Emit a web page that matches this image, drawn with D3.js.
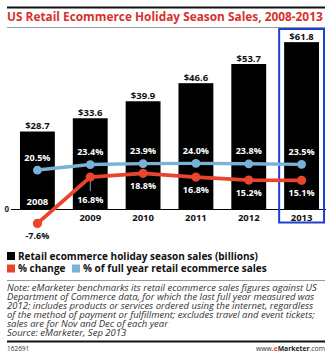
<!DOCTYPE html>
<html>
<head>
<meta charset="utf-8">
<script src="https://cdn.jsdelivr.net/npm/d3@7/dist/d3.min.js"></script>
<style>
  html, body { margin: 0; padding: 0; background: #fff; }
  svg { display: block; }
  text { font-family: "Open Sans", "Liberation Sans", Arial, sans-serif; }
</style>
</head>
<body>
<svg id="chart" width="331" height="362"></svg>
<script>
// Holiday season (Nov-Dec) retail ecommerce, 2008-2013
const years = ["2008", "2009", "2010", "2011", "2012", "2013"];
const salesBillions = [28.7, 33.6, 39.9, 46.6, 53.7, 61.8];
const pctChange = [-7.6, 16.8, 18.8, 16.8, 15.2, 15.1];
const pctOfFullYear = [20.5, 23.4, 23.9, 24.0, 23.8, 23.5];
const highlightYear = "2013";

const titleText = "US Retail Ecommerce Holiday Season Sales, 2008-2013";
const legendItems = [
  { label: "Retail ecommerce holiday season sales (billions)", color: "#000000" },
  { label: "% change", color: "#e8452c" },
  { label: "% of full year retail ecommerce sales", color: "#78b2d6" }
];
const noteLines = [
  "Note: eMarketer benchmarks its retail ecommerce sales figures against US",
  "Department of Commerce data, for which the last full year measured was",
  "2012; includes products or services ordered using the internet, regardless",
  "of the method of payment or fulfillment; excludes travel and event tickets;",
  "sales are for Nov and Dec of each year",
  "Source: eMarketer, Sep 2013"
];

const RED = "#e8452c", BLUE = "#78b2d6", TITLE_RED = "#d8312b", FRAME_BLUE = "#1f3fd1";

const svg = d3.select("#chart");
const rows = years.map((y, i) => ({
  year: y, sales: salesBillions[i], change: pctChange[i], share: pctOfFullYear[i]
}));

// header rules and title (font size fitted to the rule width)
svg.append("line").attr("x1", 7).attr("x2", 325).attr("y1", 7.5).attr("y2", 7.5)
  .attr("stroke", "#111").attr("stroke-width", 2.2);
const title = svg.append("text").attr("x", 7).attr("y", 21)
  .attr("fill", TITLE_RED).attr("font-weight", 700).attr("font-size", 12)
  .text(titleText);
const natural = title.node().getComputedTextLength();
title.attr("font-size", (12 * 316 / natural).toFixed(2));
svg.append("line").attr("x1", 7).attr("x2", 325).attr("y1", 27.5).attr("y2", 27.5)
  .attr("stroke", "#999").attr("stroke-width", 1);

// scales
const x = d3.scaleBand().domain(years).range([11, 328]).paddingInner(0.34).paddingOuter(0.17);
const ySales = d3.scaleLinear().domain([0, 70]).range([209, 20]);
const yPct = d3.scaleLinear().domain([-10, 30]).range([228, 152]);
const cx = d => x(d.year) + x.bandwidth() / 2;

// bars
svg.append("g").selectAll("rect").data(rows).join("rect")
  .attr("x", d => x(d.year)).attr("width", x.bandwidth())
  .attr("y", d => ySales(d.sales)).attr("height", d => ySales(0) - ySales(d.sales))
  .attr("fill", "#000");

// bar value labels
svg.append("g").selectAll("text").data(rows).join("text")
  .attr("x", cx).attr("y", d => ySales(d.sales) - 2.5)
  .attr("text-anchor", "middle").attr("font-size", 9.5).attr("font-weight", 700)
  .attr("fill", "#111").text(d => "$" + d.sales.toFixed(1));

// baseline axis with the single zero tick
const axis = d3.axisLeft(ySales).tickValues([0]).tickSize(0).tickPadding(2);
const axisG = svg.append("g").attr("transform", "translate(11,0)").call(axis);
axisG.select(".domain").remove();
axisG.selectAll("text").attr("font-size", 8).attr("font-weight", 700)
  .attr("font-family", "'Open Sans', sans-serif").attr("fill", "#222");
svg.append("line").attr("x1", 11).attr("x2", 326)
  .attr("y1", ySales(0) + 0.5).attr("y2", ySales(0) + 0.5)
  .attr("stroke", "#000").attr("stroke-width", 1);

// year labels: inside the bar when the change line dips below the baseline
svg.append("g").selectAll("text").data(rows).join("text")
  .attr("x", cx)
  .attr("y", d => d.change < 0 ? 204.5 : 220.5)
  .attr("text-anchor", "middle").attr("font-size", 9.5).attr("font-weight", 700)
  .attr("fill", d => d.change < 0 ? "#fff" : "#111")
  .text(d => d.year);

// highlight frame around the latest year
svg.append("rect")
  .attr("x", x(highlightYear) - 5).attr("width", x.bandwidth() + 10)
  .attr("y", 29).attr("height", 193.5)
  .attr("fill", "none").attr("stroke", FRAME_BLUE).attr("stroke-width", 2);

// leader from the 2009 change point down to its label
svg.append("line")
  .attr("x1", cx(rows[1])).attr("x2", cx(rows[1]))
  .attr("y1", yPct(rows[1].change) + 4).attr("y2", yPct(rows[1].change) + 14)
  .attr("stroke", "#bbb").attr("stroke-width", 0.8);

// lines
const shareLine = d3.line().x(cx).y(d => yPct(d.share));
const changeLine = d3.line().x(cx).y(d => yPct(d.change));
svg.append("path").datum(rows).attr("d", shareLine)
  .attr("fill", "none").attr("stroke", BLUE).attr("stroke-width", 3.4);
svg.append("path").datum(rows).attr("d", changeLine)
  .attr("fill", "none").attr("stroke", RED).attr("stroke-width", 3.8);
svg.append("g").selectAll("circle").data(rows).join("circle")
  .attr("cx", cx).attr("cy", d => yPct(d.share)).attr("r", 4.4).attr("fill", BLUE);
svg.append("g").selectAll("circle").data(rows).join("circle")
  .attr("cx", cx).attr("cy", d => yPct(d.change)).attr("r", 4.6).attr("fill", RED);

// share labels above the blue points
svg.append("g").selectAll("text").data(rows).join("text")
  .attr("x", cx).attr("y", d => yPct(d.share) - 9.5)
  .attr("text-anchor", "middle").attr("font-size", 9).attr("font-weight", 700)
  .attr("fill", "#fff").text(d => d.share.toFixed(1) + "%");

// change labels below the red points
svg.append("g").selectAll("text").data(rows).join("text")
  .attr("x", cx)
  .attr("y", (d, i) => yPct(d.change) + (i === 1 ? 25.5 : 15.5))
  .attr("text-anchor", "middle").attr("font-size", 9).attr("font-weight", 700)
  .attr("fill", d => d.change < 0 ? "#111" : "#fff")
  .text(d => d.change.toFixed(1) + "%");

// legend
const legendPos = [{ x: 7, y: 256 }, { x: 7, y: 268.5 }, { x: 72, y: 268.5 }];
const lg = svg.append("g").selectAll("g").data(legendItems).join("g")
  .attr("transform", (d, i) => `translate(${legendPos[i].x},${legendPos[i].y})`);
lg.append("rect").attr("x", 0).attr("y", -4).attr("width", 8).attr("height", 8)
  .attr("fill", d => d.color);
lg.append("text").attr("x", 11).attr("y", 3.5)
  .attr("font-size", 10).attr("font-weight", 700).attr("fill", "#111")
  .text(d => d.label);

svg.append("line").attr("x1", 7).attr("x2", 325).attr("y1", 280.5).attr("y2", 280.5)
  .attr("stroke", "#999").attr("stroke-width", 1);

// note and source: one text block, one tspan per line
svg.append("text")
  .attr("font-size", 9.5).attr("font-style", "italic").attr("fill", "#333")
  .selectAll("tspan").data(noteLines).join("tspan")
  .attr("x", 7).attr("y", (d, i) => 291 + i * 8.9)
  .text(d => d);

// footer
svg.append("line").attr("x1", 7).attr("x2", 325).attr("y1", 341.5).attr("y2", 341.5)
  .attr("stroke", "#111").attr("stroke-width", 2.2);
svg.append("text").attr("x", 7).attr("y", 351)
  .attr("font-size", 6.5).attr("fill", "#333").text("162691");
const site = svg.append("text").attr("x", 325).attr("y", 351)
  .attr("text-anchor", "end").attr("font-size", 6.8).attr("fill", "#333");
site.append("tspan").text("www.");
site.append("tspan").attr("fill", RED).attr("font-weight", 700).text("e");
site.append("tspan").attr("font-weight", 700).attr("fill", "#222").text("Marketer");
site.append("tspan").text(".com");
</script>
</body>
</html>
